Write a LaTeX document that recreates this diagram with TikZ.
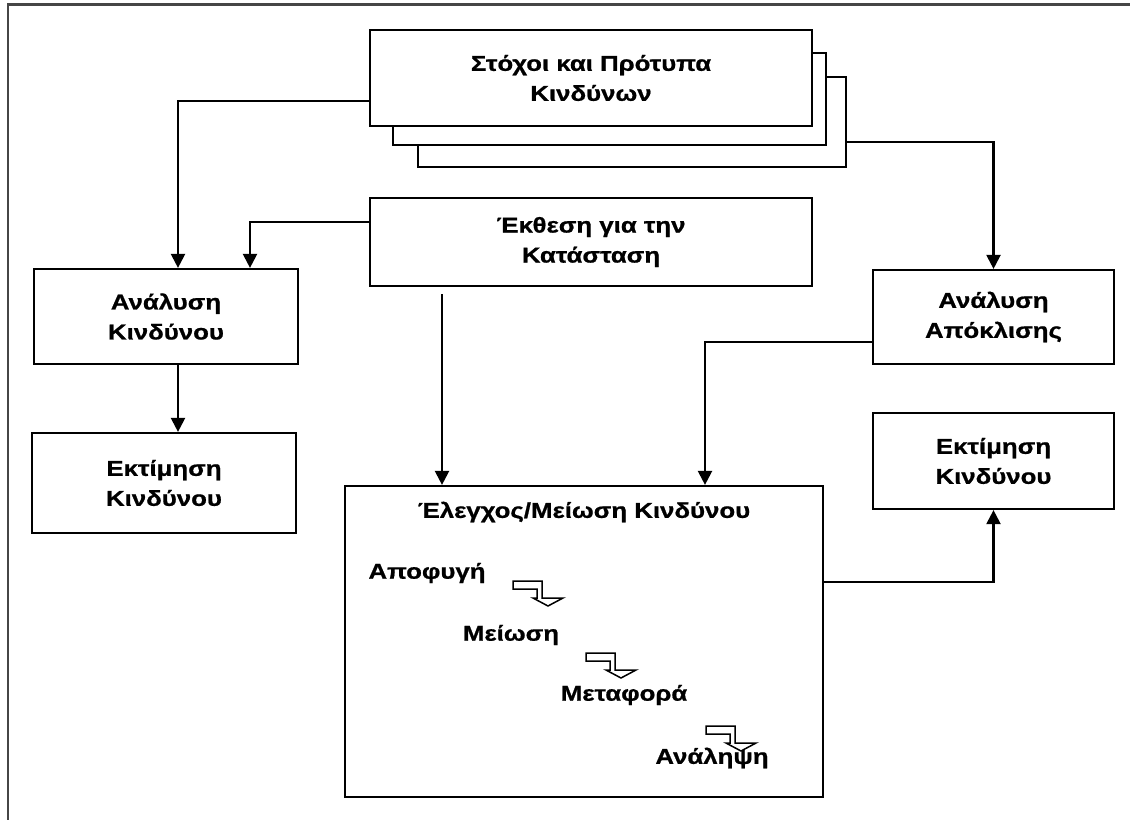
\documentclass[tikz,border=0pt]{standalone}
\usepackage{fontspec}
\newfontfamily\labfont{Liberation Sans}[FakeStretch=1.2, BoldFeatures={FakeBold=0.8}]
\usetikzlibrary{arrows.meta}
\begin{document}
\begin{tikzpicture}[x=1pt,y=-1pt,
  txt/.style={font=\labfont\bfseries\fontsize{21.5}{30}\selectfont, align=center},
  box/.style={txt, draw, line width=2.2pt, fill=white, inner sep=0pt},
  lbl/.style={txt, inner sep=0pt},
  link/.style={line width=2.2pt},
  conn/.style={link, -{Triangle[length=14pt,width=14pt]}},
  turn/.pic={\draw[line width=1.5pt, fill=white, line join=miter]
     (0,0) -- (29,0) -- (29,17) -- (50,17) -- (35,25) -- (20,17)
     -- (24,17) -- (24,8) -- (0,8) -- cycle;}
]
\useasboundingbox (0,0) rectangle (1130,820);
\fill[white] (0,0) rectangle (1130,820);
% frame
\draw[gray!55!black, line width=2.4pt] (1130,4.5) -- (8,4.5) -- (8,820);

% stacked boxes at the top
\node[box, minimum width=428pt, minimum height=90pt] (s3) at (632,122) {};
\node[box, minimum width=433pt, minimum height=92pt] (s2) at (609.5,99) {};
\node[box, minimum width=442pt, minimum height=96pt] (s1) at (591,78)
  {Στόχοι και Πρότυπα\\Κινδύνων};

\node[box, minimum width=442pt, minimum height=88pt] (ekth) at (591,242)
  {Έκθεση για την\\Κατάσταση};
\node[box, minimum width=264pt, minimum height=95pt] (ak) at (166,316.5)
  {Ανάλυση\\Κινδύνου};
\node[box, minimum width=264pt, minimum height=100pt] (ek) at (164,483)
  {Εκτίμηση\\Κινδύνου};
\node[box, minimum width=241pt, minimum height=94pt] (aa) at (993.5,317)
  {Ανάλυση\\Απόκλισης};
\node[box, minimum width=241pt, minimum height=96pt] (er) at (993.5,461)
  {Εκτίμηση\\Κινδύνου};

% control / reduction box
\node[box, minimum width=478pt, minimum height=311pt] (el) at (584,641.5) {};
\node[lbl] (elt) at (584,512) {Έλεγχος/Μείωση Κινδύνου};
\node[lbl] (st1) at (427,573) {Αποφυγή};
\node[lbl] (st2) at (511,635) {Μείωση};
\node[lbl] (st3) at (624,695) {Μεταφορά};
\node[lbl] (st4) at (712,758) {Ανάληψη};
\pic at (513,581) {turn};
\pic at (586,653) {turn};
\pic at (706,726) {turn};

% connectors
\draw[conn] ([yshift=-23pt]s1.west) -| ([xshift=12pt]ak.north);
\draw[conn] ([yshift=20pt]ekth.west) -| ([xshift=84pt]ak.north);
\draw[conn] ([yshift=-20pt]s3.east) -| (aa.north);
\draw[conn] ([xshift=12pt]ak.south) -- ([xshift=14pt]ek.north);
\coordinate (drop) at (442,294);
\draw[conn] (drop) -- (drop |- el.north);
\draw[conn] ([yshift=-25pt]aa.west) -| ([xshift=121pt]el.north);
\draw[conn] ([yshift=59.5pt]el.east) -| (er.south);
\end{tikzpicture}
\end{document}
